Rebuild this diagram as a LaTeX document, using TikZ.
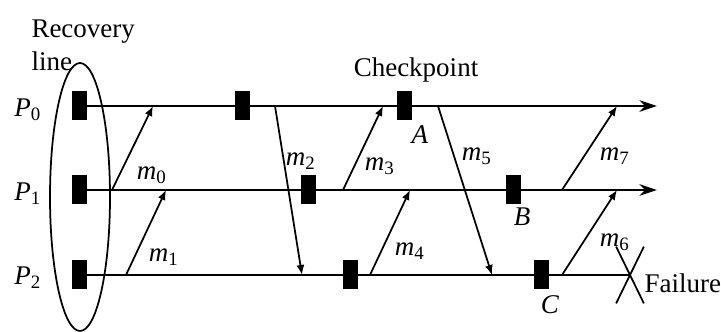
\documentclass[tikz,border=0pt]{standalone}
\usepackage{fontspec}
\setmainfont{Liberation Serif}
\usetikzlibrary{arrows.meta,shapes.misc}
\newcommand{\msg}[1]{\textit{m}\textsubscript{#1}}
\newcommand{\proc}[1]{\textit{P}\textsubscript{#1}}
\tikzset{
  font=\fontsize{10.8}{13.2}\selectfont,
  ckpt/.style  ={draw, fill=black, inner sep=0pt, minimum width=5.6pt, minimum height=11.2pt},
  pline/.style ={draw, line width=1pt},
  parr/.style  ={pline, -{Stealth[length=7pt,width=4.6pt]}},
  marr/.style  ={draw, line width=0.7pt, -{Latex[length=4pt,width=3.2pt]}},
  lbl/.style   ={inner sep=0pt},
}
\begin{document}
\begin{tikzpicture}[x=0.4pt, y=-0.4pt]
  \useasboundingbox (0,0) rectangle (721,332);
  % process lines
  \coordinate (e0) at (657,106);
  \coordinate (e1) at (657,190);
  \node[draw, cross out, line width=0.7pt, inner sep=0pt, minimum width=10.4pt, minimum height=22pt] (fail) at (630,275) {};
  \node[ckpt] (c00) at (79,106) {};
  \node[ckpt] (c10) at (79,190) {};
  \node[ckpt] (c20) at (79,275) {};
  \draw[parr] (c00.east) -- (e0);
  \draw[parr] (c10.east) -- (e1);
  \draw[pline] (c20.east) -- (fail.center);
  \node[ckpt] (c01) at (242,106) {};
  \node[ckpt] (cA) at (404,106) {};
  \node[ckpt] (c11) at (308,190) {};
  \node[ckpt] (cB) at (513,190) {};
  \node[ckpt] (c21) at (350,275) {};
  \node[ckpt] (cC) at (541,275) {};
  % message end points
  \coordinate (s0) at (112,190); \coordinate (r0) at (153,106);
  \coordinate (s1) at (126,275); \coordinate (r1) at (166,190);
  \coordinate (s2) at (275,106); \coordinate (r2) at (302,275);
  \coordinate (s3) at (343,190); \coordinate (r3) at (383,106);
  \coordinate (s4) at (370,275); \coordinate (r4) at (410,190);
  \coordinate (s5) at (438,106); \coordinate (r5) at (492,275);
  \coordinate (s6) at (562,275); \coordinate (r6) at (617,190);
  \coordinate (s7) at (562,190); \coordinate (r7) at (617,106);
  \foreach \i in {0,...,7}
    \draw[marr] (s\i) -- (r\i);
  % labels
  \node[lbl] (l0) at (152,175) {\msg{0}};
  \node[lbl] (l1) at (164,257) {\msg{1}};
  \node[lbl] (l2) at (301,161) {\msg{2}};
  \node[lbl] (l3) at (380,166) {\msg{3}};
  \node[lbl] (l4) at (410,251) {\msg{4}};
  \node[lbl] (l5) at (477,156) {\msg{5}};
  \node[lbl] (l6) at (615,242) {\msg{6}};
  \node[lbl] (l7) at (615,156) {\msg{7}};
  \node[lbl] (pA) at (420,135) {\textit{A}};
  \node[lbl] (pB) at (522,217) {\textit{B}};
  \node[lbl] (pC) at (550,305) {\textit{C}};
  \node[lbl] (p0) at (28,110) {\proc{0}};
  \node[lbl] (p1) at (28,194) {\proc{1}};
  \node[lbl] (p2) at (28,278) {\proc{2}};
  \node[lbl] (chk) at (416,70) {Checkpoint};
  \node[lbl, anchor=west, align=left] (rec) at (31,45) {Recovery\\line};
  \node[lbl, anchor=west] (fl) at (644,283) {Failure};
  % recovery line
  \draw[line width=0.7pt] (80,197) ellipse [x radius=30, y radius=134];
\end{tikzpicture}
\end{document}
